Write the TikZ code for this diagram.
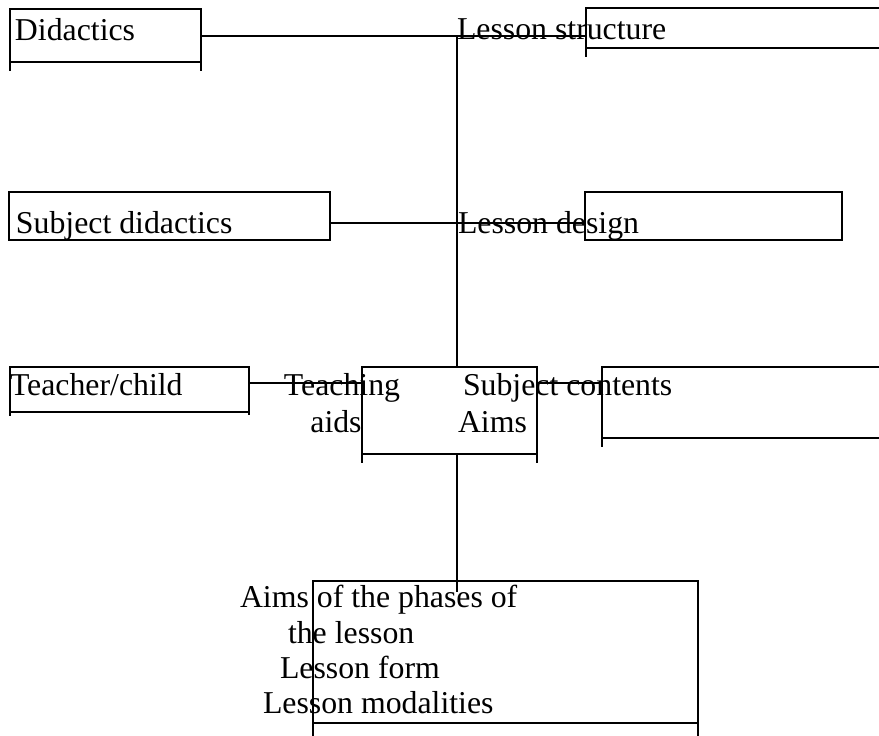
\documentclass[tikz,border=0pt]{standalone}
\usepackage{fontspec}
\setmainfont{Liberation Serif}
\usetikzlibrary{calc}
\tikzset{>=latex,inner sep=0pt,outer sep=0pt}
\tikzset{box/.style={draw,rectangle,anchor=north west},
	lbl/.style={anchor=base west,font=\fontsize{31.8pt}{36pt}\selectfont},
	lblc/.style={lbl,anchor=base}}
\begin{document}
\begin{tikzpicture}[x=1pt,y=-1pt,line width=1.7pt]
			\clip (0,0) rectangle (879,736);
			\coordinate (V) at (457,36);
			\node[box,minimum width=191pt,minimum height=53pt] (didbox) at (10,9) {};
			\node[box,minimum width=400pt,minimum height=40pt] (strbox) at (586,8) {};
			\node[box,minimum width=321pt,minimum height=48pt] (sdbox) at (9,192) {};
			\node[box,minimum width=257pt,minimum height=48pt] (desbox) at (585,192) {};
			\node[box,minimum width=239pt,minimum height=45pt] (tcbox) at (10,367) {};
			\node[box,minimum width=175pt,minimum height=87pt] (aimbox) at (362,367) {};
			\node[box,minimum width=400pt,minimum height=71pt] (conbox) at (602,367) {};
			\node[box,minimum width=385pt,minimum height=142pt] (phbox) at (313,581) {};
			\draw (didbox.south west)--++(0,9) (didbox.south east)--++(0,9);
			\draw (strbox.south west)--++(0,9);
			\draw (tcbox.south west)--++(0,4) (tcbox.south east)--++(0,3);
			\draw (aimbox.south west)--++(0,9) (aimbox.south east)--++(0,9);
			\draw (conbox.south west)--++(0,9);
			\draw (phbox.south west)--++(0,20) (phbox.south east)--++(0,20);
			\draw ($(didbox.north east)+(0,27)$)--($(strbox.north west)+(0,28)$);
			\draw (V)--(V |- aimbox.north);
			\draw ($(sdbox.north east)+(0,31)$)--($(desbox.north west)+(0,31)$);
			\draw ($(tcbox.north east)+(0,16)$)--($(aimbox.north west)+(0,16)$);
			\draw ($(aimbox.north east)+(0,16)$)--($(conbox.north west)+(0,16)$);
			\draw (V |- aimbox.south)--($(V |- phbox.north)+(0,11)$);
			\node[lbl] (didtxt) at (15,40) {Didactics};
			\node[lbl] (strtxt) at (457,39) {Lesson structure};
			\node[lbl] (sdtxt) at (16,233) {Subject didactics};
			\node[lbl] (destxt) at (458,233) {Lesson design};
			\node[lbl] (tctxt) at (10,395) {Teacher/child};
			\node[lblc] (aidtxt) at (342,395) {Teaching};
			\node[lblc] (aidtxt2) at (336,432) {aids};
			\node[lbl] (contxt) at (463,395) {Subject contents};
			\node[lbl] (aimtxt) at (458,432) {Aims};
			\node[lbl] (phtxt) at (240,607) {Aims of the phases of};
			\node[lbl] (phtxt2) at (288,643) {the lesson};
			\node[lbl] (frmtxt) at (280,678) {Lesson form};
			\node[lbl] (modtxt) at (263,713) {Lesson modalities};
		\end{tikzpicture}
\end{document}
